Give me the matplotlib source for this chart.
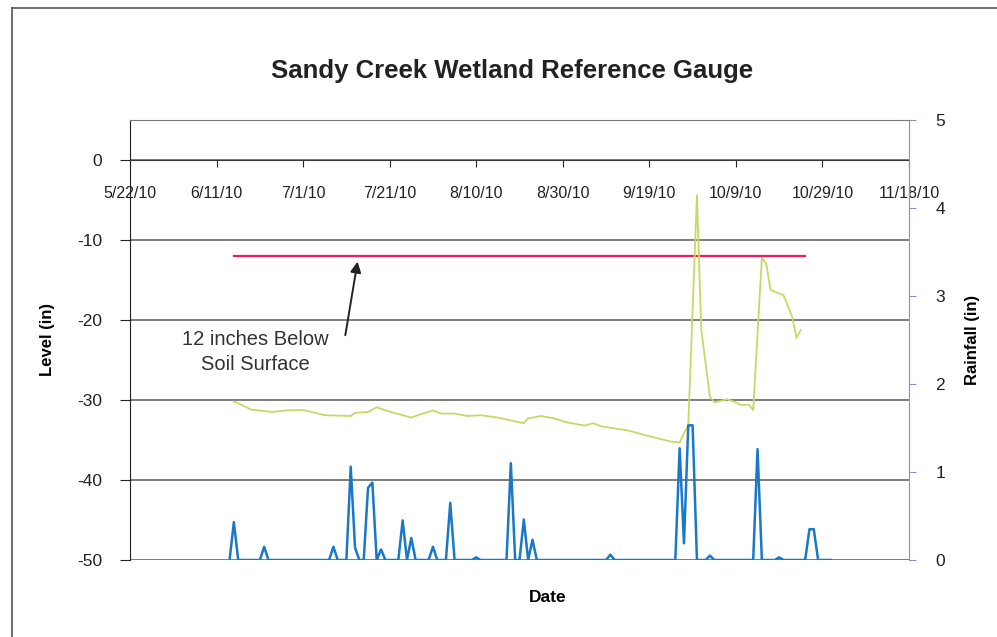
"""Sandy Creek wetland reference gauge: water level and rainfall."""

import matplotlib
matplotlib.use("Agg")
import matplotlib.dates as mdates
import matplotlib.pyplot as plt
import pandas as pd
from matplotlib.lines import Line2D
from matplotlib.ticker import FuncFormatter

plt.rcParams["font.family"] = ["Liberation Sans", "DejaVu Sans"]
plt.rcParams["axes.unicode_minus"] = False

# water level below soil surface (in)
level_dates = [
    "2010-06-15", "2010-06-16", "2010-06-19", "2010-06-24", "2010-06-27",
    "2010-07-01", "2010-07-03", "2010-07-06", "2010-07-12", "2010-07-13",
    "2010-07-16", "2010-07-18", "2010-07-20", "2010-07-26", "2010-07-28",
    "2010-07-31", "2010-08-02", "2010-08-05", "2010-08-08", "2010-08-11",
    "2010-08-15", "2010-08-21", "2010-08-22", "2010-08-25", "2010-08-28",
    "2010-08-31", "2010-09-04", "2010-09-06", "2010-09-08", "2010-09-14",
    "2010-09-18", "2010-09-24", "2010-09-26", "2010-09-27", "2010-09-28",
    "2010-09-30", "2010-10-01", "2010-10-03", "2010-10-04", "2010-10-07",
    "2010-10-09", "2010-10-10", "2010-10-12", "2010-10-13", "2010-10-15",
    "2010-10-16", "2010-10-17", "2010-10-20", "2010-10-22", "2010-10-23",
    "2010-10-24",
]
level_in = [
    -30.2, -30.4, -31.2, -31.5, -31.3,
    -31.25, -31.5, -31.9, -32.0, -31.6,
    -31.5, -30.9, -31.3, -32.2, -31.8,
    -31.3, -31.7, -31.7, -32.0, -31.9,
    -32.2, -32.9, -32.3, -32.0, -32.3,
    -32.8, -33.2, -32.9, -33.3, -33.8,
    -34.4, -35.2, -35.3, -34.2, -33.1,
    -4.4, -21.2, -29.6, -30.3, -29.9,
    -30.3, -30.6, -30.6, -31.25, -12.25,
    -12.9, -16.25, -16.9, -19.6, -22.25,
    -21.25,
]

# daily rainfall record; days not listed had no rain
rain_start, rain_end = "2010-06-14", "2010-10-31"
rain_dates = [
    "2010-06-15", "2010-06-22", "2010-07-08", "2010-07-12", "2010-07-13",
    "2010-07-16", "2010-07-17", "2010-07-19", "2010-07-24", "2010-07-26",
    "2010-07-31", "2010-08-04", "2010-08-10", "2010-08-18", "2010-08-21",
    "2010-08-23", "2010-09-10", "2010-09-26", "2010-09-27", "2010-09-28",
    "2010-09-29", "2010-10-03", "2010-10-14", "2010-10-19", "2010-10-26",
    "2010-10-27",
]
rain_in = [
    0.43, 0.15, 0.15, 1.06, 0.14,
    0.82, 0.88, 0.12, 0.45, 0.25,
    0.15, 0.65, 0.03, 1.10, 0.46,
    0.23, 0.06, 1.27, 0.19, 1.53,
    1.53, 0.05, 1.26, 0.03, 0.35,
    0.35,
]

# 12 inches below soil surface reference
ref_dates = ["2010-06-15", "2010-10-25"]
ref_level = -12

x_start, x_end = "2010-05-22", "2010-11-18"


def main() -> None:
    level = pd.Series(level_in, index=pd.to_datetime(level_dates))
    rain = pd.Series(0.0, index=pd.date_range(rain_start, rain_end, freq="D"))
    rain.loc[pd.to_datetime(rain_dates)] = rain_in

    fig = plt.figure(figsize=(9.97, 6.37), dpi=100)
    ax = fig.add_axes([130 / 997, 1 - 560 / 637, 779 / 997, 440 / 637])

    # chart border of the scan (top and left edges visible)
    fig.add_artist(Line2D([12 / 997, 1.0], [1 - 8 / 637] * 2, color="#555555", lw=1.2))
    fig.add_artist(Line2D([12 / 997] * 2, [0.0, 1 - 8 / 637], color="#555555", lw=1.2))

    ax.plot(pd.to_datetime(ref_dates), [ref_level] * 2, color="#ee1c5c", lw=1.6, zorder=3)
    ax.plot(level.index, level.values, color="#c8d865", lw=1.3, zorder=4)

    ax.set_xlim(pd.Timestamp(x_start), pd.Timestamp(x_end))
    ax.set_ylim(-50, 5)
    ax.set_yticks(range(-50, 1, 10))
    ax.grid(axis="y", color="#5a5a5a", lw=1.1)
    ax.set_axisbelow(True)

    ticks = pd.date_range(x_start, x_end, freq="20D")
    ax.set_xticks(ticks)
    ax.xaxis.set_major_formatter(
        FuncFormatter(lambda v, _: (lambda d: f"{d.month}/{d.day}/{d:%y}")(mdates.num2date(v)))
    )
    ax.spines["bottom"].set_position(("data", 0))
    ax.spines["bottom"].set_color("#3a3a3a")
    ax.spines["top"].set_color("#7a7a7a")
    ax.spines["left"].set_color("#222222")
    ax.spines["right"].set_visible(False)
    ax.tick_params(axis="x", direction="out", length=5, pad=14, labelsize=11.5, colors="#222222")
    ax.tick_params(axis="y", direction="out", length=7, pad=13, labelsize=12.5, colors="#222222")

    ax.set_ylabel("Level (in)", fontsize=12, fontweight="bold", labelpad=16)
    ax.set_title("Sandy Creek Wetland Reference Gauge", fontsize=18.5, fontweight="bold",
                 color="#222222", pad=30, x=0.49)
    fig.text(548 / 997, 1 - 598 / 637, "Date", fontsize=12.5, fontweight="bold",
             ha="center", va="center")

    ax.text(pd.Timestamp("2010-06-20"), -24.0, "12 inches Below\nSoil Surface",
            ha="center", va="center", fontsize=14.5, color="#333333", linespacing=1.45)
    ax.annotate(
        "",
        xy=(pd.Timestamp("2010-07-13 14:00"), -12.7),
        xytext=(pd.Timestamp("2010-07-10 18:00"), -21.9),
        arrowprops=dict(arrowstyle="-|>", color="#222222", lw=1.4, shrinkA=0, shrinkB=0,
                        mutation_scale=16),
    )

    ax2 = ax.twinx()
    ax2.plot(rain.index, rain.values, color="#1a78c8", lw=1.8)
    ax2.set_ylim(0, 5)
    ax2.set_yticks(range(0, 6))
    for side in ("left", "top", "bottom"):
        ax2.spines[side].set_visible(False)
    ax2.spines["right"].set_color("#8c8cc8")
    ax2.tick_params(axis="y", direction="out", length=5, pad=14, labelsize=12.5,
                    colors="#8c8cc8", labelcolor="#222222")
    ax2.set_ylabel("Rainfall (in)", fontsize=12, fontweight="bold", labelpad=14)

    fig.savefig("out.png", dpi=100)
    plt.close(fig)


if __name__ == "__main__":
    main()
